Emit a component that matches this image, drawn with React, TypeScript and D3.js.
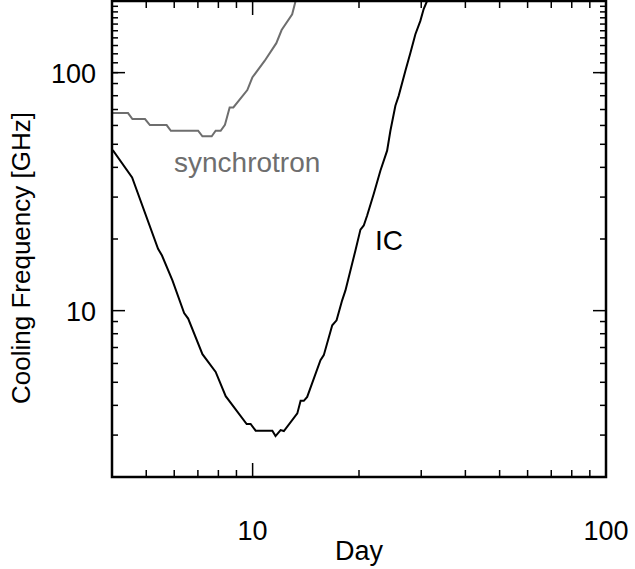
import * as d3 from 'd3';
import React, { useEffect, useRef } from 'react';

// IC cooling frequency (day, GHz)
const icDays = [4.02, 4.56, 5.4, 5.54, 5.93, 6.4, 6.57, 7.21, 7.86, 8.39, 9.62, 9.87, 10.2, 11.37, 11.61, 12.0, 12.26, 13.38, 13.67, 13.96, 14.27, 15.56, 15.9, 16.8, 17.28, 17.92, 18.31, 19.54, 20.19, 20.63, 21.09, 22.01, 22.99, 24.02, 24.54, 25.35, 25.9, 27.05, 27.95, 28.88, 29.83, 30.48, 31.16, 31.8];
const icFreq = [47.3, 36.3, 18.2, 17.05, 13.4, 9.77, 9.26, 6.56, 5.53, 4.37, 3.34, 3.34, 3.13, 3.13, 2.97, 3.15, 3.12, 3.7, 4.18, 4.18, 4.34, 6.19, 6.5, 8.68, 9.11, 11.05, 12.16, 17.9, 21.9, 22.8, 25.1, 30.9, 38.7, 47.0, 57.0, 72.6, 79.9, 101.7, 121, 145, 165, 185, 200, 215];

// synchrotron cooling frequency (day, GHz)
const syncDays = [4.02, 4.44, 4.57, 4.96, 5.12, 5.71, 5.87, 7.01, 7.21, 7.66, 7.86, 8.12, 8.35, 8.61, 8.82, 9.66, 9.98, 10.81, 11.67, 12.08, 12.94, 13.23, 13.5];
const syncFreq = [67.6, 67.6, 63.8, 63.8, 60.2, 60.2, 57.0, 57.0, 54.0, 54.0, 57.0, 57.0, 60.4, 71.4, 71.4, 84.5, 95.4, 112, 133, 151, 176, 200, 215];

const xTicks = [10, 100];
const yTicks = [10, 100];

const App = (): React.JSX.Element => {
	const ref = useRef<SVGSVGElement | null>(null);

	useEffect(() => {
		if (ref.current === null) return;
		const root = d3.select(ref.current);
		root.selectAll('*').remove();

		const width = 635;
		const height = 569;
		const margin = { top: 1, right: 29, bottom: 92, left: 112 };
		const font = 'Liberation Sans, Arial, sans-serif';

		const x = d3.scaleLog().domain([4, 100]).range([margin.left, width - margin.right]);
		const y = d3.scaleLog().domain([2, 200]).range([height - margin.bottom, margin.top]);
		const [x0, x1] = x.range();
		const [y0, y1] = y.range();

		root.attr('width', width).attr('height', height);

		root.append('defs').append('clipPath').attr('id', 'plot-clip')
			.append('rect')
			.attr('x', x0).attr('y', y1)
			.attr('width', x1 - x0).attr('height', y0 - y1);

		const g = root.append('g');

		// minor + major ticks, drawn inward on all four sides
		const xMinor = d3.range(5, 10).concat(d3.range(20, 100, 10));
		const yMinor = d3.range(3, 10).concat(d3.range(20, 200, 10));

		xMinor.forEach((v) => {
			g.append('line').attr('x1', x(v)).attr('x2', x(v)).attr('y1', y0).attr('y2', y0 - 7)
				.attr('stroke', '#000').attr('stroke-width', 1.5);
			g.append('line').attr('x1', x(v)).attr('x2', x(v)).attr('y1', y1).attr('y2', y1 + 7)
				.attr('stroke', '#000').attr('stroke-width', 1.5);
		});
		xTicks.forEach((v) => {
			g.append('line').attr('x1', x(v)).attr('x2', x(v)).attr('y1', y0).attr('y2', y0 - 14)
				.attr('stroke', '#000').attr('stroke-width', 1.5);
			g.append('line').attr('x1', x(v)).attr('x2', x(v)).attr('y1', y1).attr('y2', y1 + 14)
				.attr('stroke', '#000').attr('stroke-width', 1.5);
		});
		yMinor.forEach((v) => {
			g.append('line').attr('x1', x0).attr('x2', x0 + 6).attr('y1', y(v)).attr('y2', y(v))
				.attr('stroke', '#000').attr('stroke-width', 1.5);
			g.append('line').attr('x1', x1).attr('x2', x1 - 6).attr('y1', y(v)).attr('y2', y(v))
				.attr('stroke', '#000').attr('stroke-width', 1.5);
		});
		yTicks.forEach((v) => {
			g.append('line').attr('x1', x0).attr('x2', x0 + 13).attr('y1', y(v)).attr('y2', y(v))
				.attr('stroke', '#000').attr('stroke-width', 1.5);
			g.append('line').attr('x1', x1).attr('x2', x1 - 13).attr('y1', y(v)).attr('y2', y(v))
				.attr('stroke', '#000').attr('stroke-width', 1.5);
		});

		// tick labels
		g.selectAll('text.xt').data(xTicks).enter().append('text')
			.attr('class', 'xt')
			.attr('x', (d) => x(d)).attr('y', y0 + 63)
			.attr('text-anchor', 'middle')
			.attr('font-family', font).attr('font-size', 27)
			.text((d) => d);
		g.selectAll('text.yt').data(yTicks).enter().append('text')
			.attr('class', 'yt')
			.attr('x', x0 - 16).attr('y', (d) => y(d) + 10)
			.attr('text-anchor', 'end')
			.attr('font-family', font).attr('font-size', 27)
			.text((d) => d);

		// axis titles
		g.append('text')
			.attr('x', (x0 + x1) / 2).attr('y', 560)
			.attr('text-anchor', 'middle')
			.attr('font-family', font).attr('font-size', 27)
			.text('Day');
		g.append('text')
			.attr('transform', `translate(30, ${(y0 + y1) / 2 + 19}) rotate(-90)`)
			.attr('text-anchor', 'middle')
			.attr('font-family', font).attr('font-size', 26)
			.text('Cooling Frequency [GHz]');

		const line = d3.line<[number, number]>()
			.x((d) => x(d[0]))
			.y((d) => y(d[1]));

		const plot = g.append('g').attr('clip-path', 'url(#plot-clip)');
		plot.append('path')
			.datum(syncDays.map((d, i) => [d, syncFreq[i]] as [number, number]))
			.attr('fill', 'none').attr('stroke', '#6e6e6e').attr('stroke-width', 2)
			.attr('d', line);
		plot.append('path')
			.datum(icDays.map((d, i) => [d, icFreq[i]] as [number, number]))
			.attr('fill', 'none').attr('stroke', '#000').attr('stroke-width', 2)
			.attr('d', line);

		// curve labels
		g.append('text')
			.attr('x', 174).attr('y', 172)
			.attr('font-family', font).attr('font-size', 28).attr('fill', '#6e6e6e')
			.text('synchrotron');
		g.append('text')
			.attr('x', 375).attr('y', 250)
			.attr('font-family', font).attr('font-size', 28)
			.text('IC');

		// frame
		g.append('rect')
			.attr('x', x0).attr('y', y1)
			.attr('width', x1 - x0).attr('height', y0 - y1)
			.attr('fill', 'none').attr('stroke', '#000').attr('stroke-width', 2.5);
	}, []);

	return (
		<svg ref={ref} style={{ position: 'absolute', left: 0, top: 0 }} />
	);
};

export default App;
